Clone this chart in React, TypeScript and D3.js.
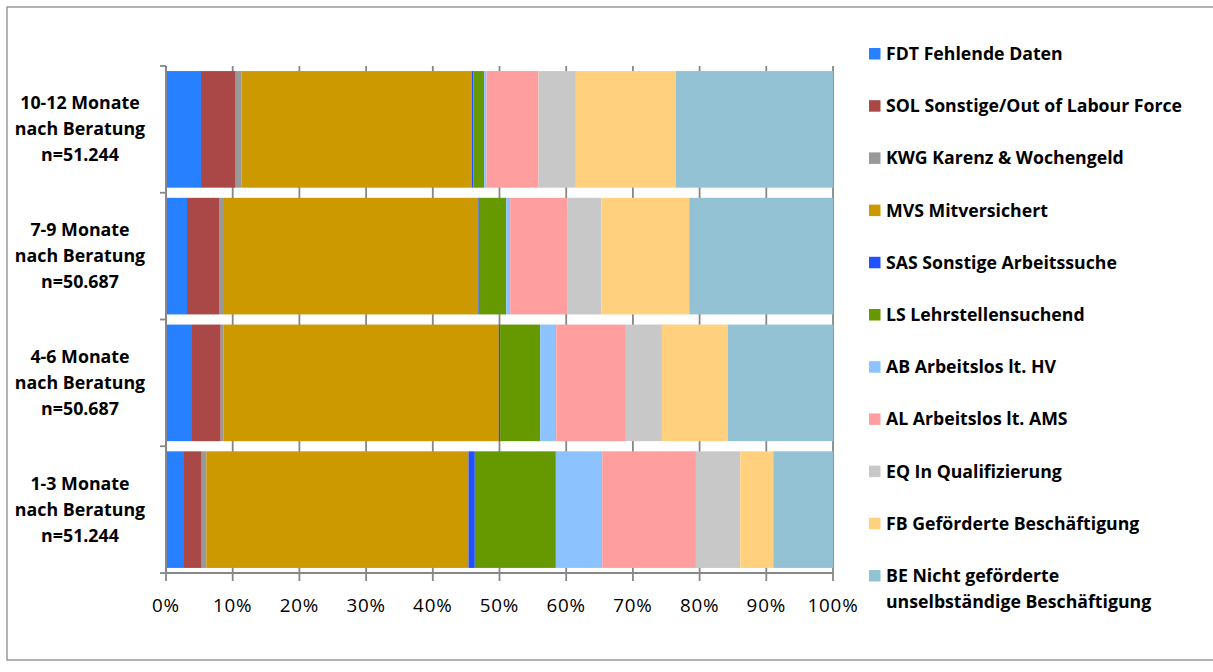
import React from "react";
import * as d3 from "d3";

const categoryLines: string[][] = [
  ["10-12 Monate", "nach Beratung", "n=51.244"],
  ["7-9 Monate", "nach Beratung", "n=50.687"],
  ["4-6 Monate", "nach Beratung", "n=50.687"],
  ["1-3 Monate", "nach Beratung", "n=51.244"],
];

const seriesKeys = ["FDT", "SOL", "KWG", "MVS", "SAS", "LS", "AB", "AL", "EQ", "FB", "BE"];
const seriesLabels: string[][] = [
  ["FDT Fehlende Daten"],
  ["SOL Sonstige/Out of Labour Force"],
  ["KWG Karenz & Wochengeld"],
  ["MVS Mitversichert"],
  ["SAS Sonstige Arbeitssuche"],
  ["LS Lehrstellensuchend"],
  ["AB Arbeitslos lt. HV"],
  ["AL Arbeitslos lt. AMS"],
  ["EQ In Qualifizierung"],
  ["FB Geförderte Beschäftigung"],
  ["BE Nicht geförderte", "unselbständige Beschäftigung"],
];
const seriesColors = ["#2680FF", "#AA4848", "#999999", "#CC9900", "#2050FF", "#669900", "#8CC3FF", "#FF9E9E", "#C8C8C8", "#FFD07D", "#93C2D4"];

// values in percent, per category (top to bottom)
const FDT = [5.25, 3.15, 3.9, 2.7];
const SOL = [5.2, 4.8, 4.3, 2.65];
const KWG = [0.9, 0.6, 0.45, 0.7];
const MVS = [34.5, 38.25, 41.25, 39.3];
const SAS = [0.25, 0.1, 0.2, 0.95];
const LS = [1.6, 4.1, 6.0, 12.15];
const AB = [0.35, 0.6, 2.4, 6.95];
const AL = [7.8, 8.6, 10.45, 14.05];
const EQ = [5.6, 5.1, 5.4, 6.65];
const FB = [15.0, 13.15, 9.9, 4.95];
const BE = [23.55, 21.55, 15.75, 8.95];

const xTicks = [0, 0.1, 0.2, 0.3, 0.4, 0.5, 0.6, 0.7, 0.8, 0.9, 1.0];

const W = 1213;
const H = 672;
const M = { left: 166, right: 833, top: 66, bottom: 573 };
const FONT = "'Open Sans', Lato, sans-serif";

export default function App() {
  const seriesValues = [FDT, SOL, KWG, MVS, SAS, LS, AB, AL, EQ, FB, BE];
  const rows = categoryLines.map((_, i) => {
    const r: Record<string, number> = { idx: i };
    seriesKeys.forEach((k, j) => (r[k] = seriesValues[j][i]));
    return r;
  });
  const stacked = d3.stack<Record<string, number>>().keys(seriesKeys).offset(d3.stackOffsetExpand)(rows);

  const x = d3.scaleLinear().domain([0, 1]).range([M.left, M.right]);
  const y = d3
    .scaleBand<number>()
    .domain(categoryLines.map((_, i) => i))
    .range([M.top, M.bottom])
    .paddingInner(0.08)
    .paddingOuter(0.04);
  const yTickBand = d3.scaleLinear().domain([0, categoryLines.length]).range([M.top, M.bottom]);
  const axisColor = "#878787";

  const legendX = 869;
  const legendY0 = 54;
  const legendStep = 52.2;

  return (
    <svg width={W} height={H} style={{ position: "absolute", left: 0, top: 0 }} fontFamily={FONT}>
      <rect x={0} y={0} width={W} height={H} fill="#fff" />
      <rect x={7} y={7} width={W + 10} height={653} fill="none" stroke="#8a8a8a" strokeWidth={1.3} />
      {/* gridlines */}
      {xTicks.slice(1).map((t) => (
        <line key={"g" + t} x1={x(t)} x2={x(t)} y1={M.top} y2={M.bottom} stroke={axisColor} strokeWidth={1.8} />
      ))}
      {/* bars */}
      {stacked.map((s, si) => (
        <g key={s.key} fill={seriesColors[si]}>
          {s.map((d, ci) => (
            <rect key={ci} x={x(d[0])} width={Math.max(0, x(d[1]) - x(d[0]))} y={y(ci)!} height={y.bandwidth()} />
          ))}
        </g>
      ))}
      {/* axes */}
      <line x1={M.left} x2={M.left} y1={M.top} y2={M.bottom} stroke={axisColor} strokeWidth={2} />
      <line x1={M.left - 1} x2={M.right} y1={M.bottom} y2={M.bottom} stroke={axisColor} strokeWidth={2} />
      {d3.range(categoryLines.length + 1).map((i) => (
        <line key={"yt" + i} x1={M.left - 6} x2={M.left} y1={yTickBand(i)} y2={yTickBand(i)} stroke={axisColor} strokeWidth={1.8} />
      ))}
      {xTicks.map((t) => (
        <g key={"xt" + t}>
          <line x1={x(t)} x2={x(t)} y1={M.bottom} y2={M.bottom + 8} stroke={axisColor} strokeWidth={1.8} />
          <text x={x(t)} y={612} textAnchor="middle" fontSize={18.8} letterSpacing={0.8} fill="#000">
            {d3.format(".0%")(t)}
          </text>
        </g>
      ))}
      {/* category labels */}
      {categoryLines.map((lines, i) => {
        const cy = y(i)! + y.bandwidth() / 2;
        return (
          <text key={"c" + i} x={80} textAnchor="middle" fontSize={17.8} fontWeight="bold" fill="#000">
            {lines.map((l, li) => (
              <tspan key={li} x={80} y={cy + (li - 1) * 26 + 6}>
                {l}
              </tspan>
            ))}
          </text>
        );
      })}
      {/* legend */}
      {seriesKeys.map((k, i) => {
        const cy = legendY0 + i * legendStep;
        return (
          <g key={"l" + k}>
            <rect x={legendX} y={cy - 6} width={11.5} height={11.5} fill={seriesColors[i]} />
            <text fontSize={17.7} fontWeight="bold" fill="#000">
              {seriesLabels[i].map((l, li) => (
                <tspan key={li} x={886} y={cy + 6 + li * 26}>
                  {l}
                </tspan>
              ))}
            </text>
          </g>
        );
      })}
    </svg>
  );
}
